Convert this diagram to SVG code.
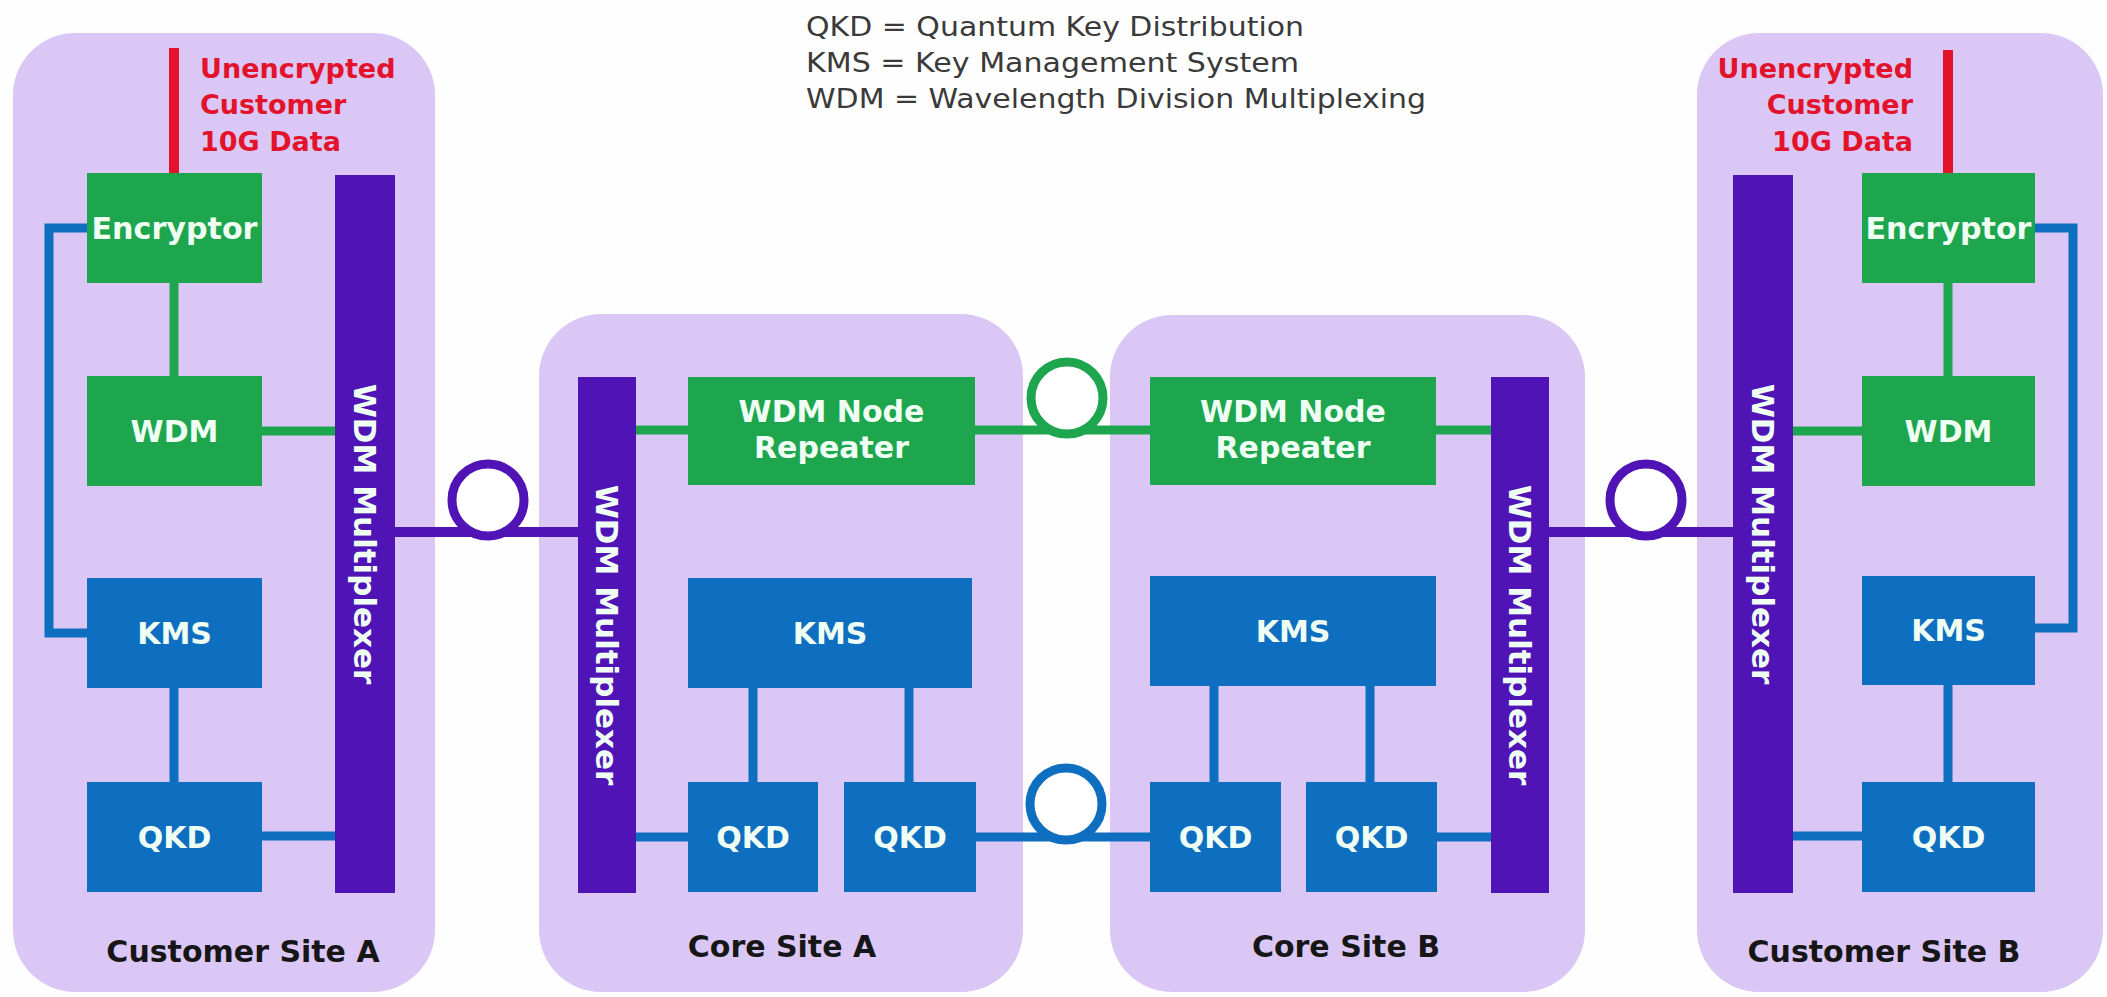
<svg xmlns="http://www.w3.org/2000/svg" width="2107" height="997" viewBox="0 0 2107 997">
  <style>
    .site { fill: #dac7f6; }
    .green { fill: #1ea64f; }
    .blue { fill: #0e6fc1; }
    .mux { fill: #5014b6; }
    .lbl { font-family: "DejaVu Sans", "Liberation Sans", sans-serif; font-weight: bold; fill: #effff4; text-anchor: middle; }
    .box { font-size: 30px; }
    .muxt { font-size: 31px; }
    .site-name { font-family: "DejaVu Sans", "Liberation Sans", sans-serif; font-weight: bold; font-size: 30px; fill: #161616; text-anchor: middle; }
    .red { font-family: "DejaVu Sans", "Liberation Sans", sans-serif; font-weight: bold; font-size: 27px; fill: #e2132b; }
    .legend { font-family: "DejaVu Sans", "Liberation Sans", sans-serif; font-size: 26px; fill: #3a3a3a; }
    .gl { stroke: #1ea64f; stroke-width: 9; fill: none; }
    .bl { stroke: #0e6fc1; stroke-width: 9; fill: none; }
    .pl { stroke: #5014b6; stroke-width: 10; fill: none; }
    .rl { stroke: #e2132b; stroke-width: 10; fill: none; }
    .loop { fill: #ffffff; stroke-width: 9; }
  </style>

  <rect width="2107" height="997" fill="#fefefe"/>

  <!-- abbreviation legend -->
  <g id="legend">
    <text class="legend" x="806" y="36" textLength="498" lengthAdjust="spacingAndGlyphs">QKD = Quantum Key Distribution</text>
    <text class="legend" x="806" y="72" textLength="493" lengthAdjust="spacingAndGlyphs">KMS = Key Management System</text>
    <text class="legend" x="806" y="108" textLength="620" lengthAdjust="spacingAndGlyphs">WDM = Wavelength Division Multiplexing</text>
  </g>

  <!-- site panels -->
  <g id="customer-site-a">
    <rect class="site" x="13" y="33" width="422" height="959" rx="62"/>
    <text class="site-name" x="243" y="962">Customer Site A</text>
  </g>
  <g id="core-site-a">
    <rect class="site" x="539" y="314" width="484" height="678" rx="62"/>
    <text class="site-name" x="782" y="957">Core Site A</text>
  </g>
  <g id="core-site-b">
    <rect class="site" x="1110" y="315" width="475" height="677" rx="62"/>
    <text class="site-name" x="1346" y="957">Core Site B</text>
  </g>
  <g id="customer-site-b">
    <rect class="site" x="1697" y="33" width="406" height="959" rx="62"/>
    <text class="site-name" x="1884" y="962">Customer Site B</text>
  </g>

  <!-- connectors -->
  <g id="connectors">
    <!-- customer data feeds -->
    <line class="rl" x1="174" y1="48" x2="174" y2="175"/>
    <line class="rl" x1="1948" y1="50" x2="1948" y2="175"/>

    <!-- Customer Site A -->
    <line class="gl" x1="174" y1="283" x2="174" y2="376"/>
    <line class="gl" x1="262" y1="431" x2="335" y2="431"/>
    <polyline class="bl" points="87,228 49,228 49,633 87,633"/>
    <line class="bl" x1="174" y1="688" x2="174" y2="782"/>
    <line class="bl" x1="262" y1="836" x2="335" y2="836"/>

    <!-- Customer Site B -->
    <line class="gl" x1="1948" y1="283" x2="1948" y2="376"/>
    <line class="gl" x1="1793" y1="431" x2="1862" y2="431"/>
    <polyline class="bl" points="2035,228 2073,228 2073,628 2035,628"/>
    <line class="bl" x1="1948" y1="685" x2="1948" y2="782"/>
    <line class="bl" x1="1793" y1="836" x2="1862" y2="836"/>

    <!-- Core Site A -->
    <line class="gl" x1="636" y1="430" x2="688" y2="430"/>
    <line class="bl" x1="636" y1="837" x2="688" y2="837"/>
    <line class="bl" x1="753" y1="688" x2="753" y2="782"/>
    <line class="bl" x1="909" y1="688" x2="909" y2="782"/>

    <!-- Core Site B -->
    <line class="gl" x1="1436" y1="430" x2="1491" y2="430"/>
    <line class="bl" x1="1437" y1="837" x2="1491" y2="837"/>
    <line class="bl" x1="1214" y1="686" x2="1214" y2="782"/>
    <line class="bl" x1="1370" y1="686" x2="1370" y2="782"/>

    <!-- fibre spans between sites, each with a spool loop -->
    <line class="pl" x1="395" y1="532" x2="578" y2="532"/>
    <circle class="loop" cx="488" cy="500" r="36" stroke="#5014b6"/>

    <line class="gl" x1="975" y1="430" x2="1150" y2="430"/>
    <circle class="loop" cx="1067" cy="398" r="36" stroke="#1ea64f"/>

    <line class="bl" x1="976" y1="837" x2="1150" y2="837"/>
    <circle class="loop" cx="1066" cy="804" r="36" stroke="#0e6fc1"/>

    <line class="pl" x1="1549" y1="532" x2="1733" y2="532"/>
    <circle class="loop" cx="1646" cy="500" r="36" stroke="#5014b6"/>
  </g>

  <!-- Customer Site A nodes -->
  <g id="a-data-label">
    <text class="red" x="200" y="78">Unencrypted</text>
    <text class="red" x="200" y="114">Customer</text>
    <text class="red" x="200" y="151">10G Data</text>
  </g>
  <g id="a-encryptor">
    <rect class="green" x="87" y="173" width="175" height="110"/>
    <text class="lbl box" x="174.5" y="239" textLength="166" lengthAdjust="spacingAndGlyphs">Encryptor</text>
  </g>
  <g id="a-wdm">
    <rect class="green" x="87" y="376" width="175" height="110"/>
    <text class="lbl box" x="174.5" y="442">WDM</text>
  </g>
  <g id="a-kms">
    <rect class="blue" x="87" y="578" width="175" height="110"/>
    <text class="lbl box" x="174.5" y="644">KMS</text>
  </g>
  <g id="a-qkd">
    <rect class="blue" x="87" y="782" width="175" height="110"/>
    <text class="lbl box" x="174.5" y="848">QKD</text>
  </g>
  <g id="a-mux">
    <rect class="mux" x="335" y="175" width="60" height="718"/>
    <text class="lbl muxt" transform="translate(354 534) rotate(90)">WDM Multiplexer</text>
  </g>

  <!-- Core Site A nodes -->
  <g id="ca-mux">
    <rect class="mux" x="578" y="377" width="58" height="516"/>
    <text class="lbl muxt" transform="translate(596 635) rotate(90)">WDM Multiplexer</text>
  </g>
  <g id="ca-repeater">
    <rect class="green" x="688" y="377" width="287" height="108"/>
    <text class="lbl box" x="831.5" y="422">WDM Node</text>
    <text class="lbl box" x="831.5" y="458">Repeater</text>
  </g>
  <g id="ca-kms">
    <rect class="blue" x="688" y="578" width="284" height="110"/>
    <text class="lbl box" x="830" y="644">KMS</text>
  </g>
  <g id="ca-qkd-1">
    <rect class="blue" x="688" y="782" width="130" height="110"/>
    <text class="lbl box" x="753" y="848">QKD</text>
  </g>
  <g id="ca-qkd-2">
    <rect class="blue" x="844" y="782" width="132" height="110"/>
    <text class="lbl box" x="910" y="848">QKD</text>
  </g>

  <!-- Core Site B nodes -->
  <g id="cb-repeater">
    <rect class="green" x="1150" y="377" width="286" height="108"/>
    <text class="lbl box" x="1293" y="422">WDM Node</text>
    <text class="lbl box" x="1293" y="458">Repeater</text>
  </g>
  <g id="cb-kms">
    <rect class="blue" x="1150" y="576" width="286" height="110"/>
    <text class="lbl box" x="1293" y="642">KMS</text>
  </g>
  <g id="cb-qkd-1">
    <rect class="blue" x="1150" y="782" width="131" height="110"/>
    <text class="lbl box" x="1215.5" y="848">QKD</text>
  </g>
  <g id="cb-qkd-2">
    <rect class="blue" x="1306" y="782" width="131" height="110"/>
    <text class="lbl box" x="1371.5" y="848">QKD</text>
  </g>
  <g id="cb-mux">
    <rect class="mux" x="1491" y="377" width="58" height="516"/>
    <text class="lbl muxt" transform="translate(1509 635) rotate(90)">WDM Multiplexer</text>
  </g>

  <!-- Customer Site B nodes -->
  <g id="b-data-label">
    <text class="red" x="1913" y="78" text-anchor="end">Unencrypted</text>
    <text class="red" x="1913" y="114" text-anchor="end">Customer</text>
    <text class="red" x="1913" y="151" text-anchor="end">10G Data</text>
  </g>
  <g id="b-mux">
    <rect class="mux" x="1733" y="175" width="60" height="718"/>
    <text class="lbl muxt" transform="translate(1752 534) rotate(90)">WDM Multiplexer</text>
  </g>
  <g id="b-encryptor">
    <rect class="green" x="1862" y="173" width="173" height="110"/>
    <text class="lbl box" x="1948.5" y="239" textLength="166" lengthAdjust="spacingAndGlyphs">Encryptor</text>
  </g>
  <g id="b-wdm">
    <rect class="green" x="1862" y="376" width="173" height="110"/>
    <text class="lbl box" x="1948.5" y="442">WDM</text>
  </g>
  <g id="b-kms">
    <rect class="blue" x="1862" y="576" width="173" height="109"/>
    <text class="lbl box" x="1948.5" y="641">KMS</text>
  </g>
  <g id="b-qkd">
    <rect class="blue" x="1862" y="782" width="173" height="110"/>
    <text class="lbl box" x="1948.5" y="848">QKD</text>
  </g>
</svg>
